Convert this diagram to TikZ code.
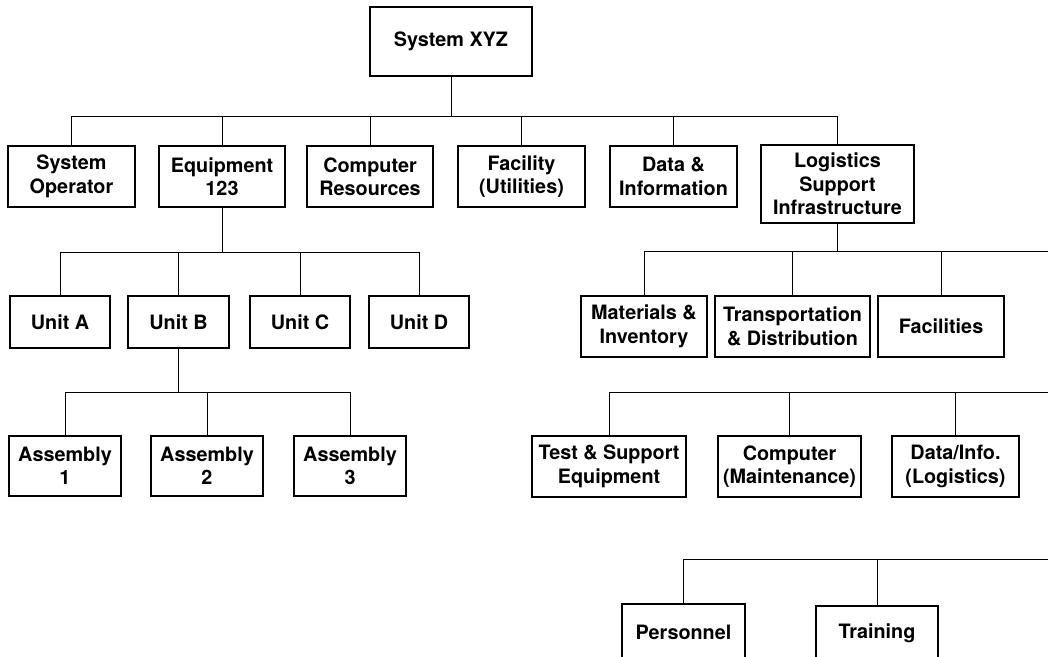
\documentclass[tikz,border=0pt]{standalone}
\usepackage{fontspec}
\setmainfont{TeX Gyre Heros}
\begin{document}
\begin{tikzpicture}[x=1pt,y=-1pt,
  box/.style={draw, line width=1.8pt, rectangle, align=center, inner sep=1pt,
    font=\bfseries\fontsize{19.8}{23.5}\selectfont},
  conn/.style={line width=1pt}]
\useasboundingbox (0,0) rectangle (1048,656);
\clip (0,0) rectangle (1048,656);
% level 0
\node[box, minimum width=162pt, minimum height=69pt] (sys) at (451,41.5) {System XYZ};
% level 1
\node[box, minimum width=127pt, minimum height=61pt] (op) at (71.5,176.5) {System\\Operator};
\node[box, minimum width=126pt, minimum height=61pt] (eq) at (222,176.5) {Equipment\\123};
\node[box, minimum width=126pt, minimum height=61pt] (cr) at (370,176.5) {Computer\\Resources};
\node[box, minimum width=127pt, minimum height=61pt] (fac) at (521.5,176.5) {Facility\\(Utilities)};
\node[box, minimum width=127pt, minimum height=61pt] (data) at (673.5,176.5) {Data \&\\Information};
\node[box, minimum width=153pt, minimum height=78pt] (log) at (837.5,184) {Logistics\\Support\\Infrastructure};
% units
\node[box, minimum width=100pt, minimum height=52pt] (uA) at (60,322) {Unit A};
\node[box, minimum width=101pt, minimum height=52pt] (uB) at (178.5,322) {Unit B};
\node[box, minimum width=100pt, minimum height=52pt] (uC) at (300,322) {Unit C};
\node[box, minimum width=100pt, minimum height=52pt] (uD) at (419,322) {Unit D};
% assemblies
\node[box, minimum width=112pt, minimum height=60pt] (a1) at (65,466) {Assembly\\1};
\node[box, minimum width=112pt, minimum height=60pt] (a2) at (207,466) {Assembly\\2};
\node[box, minimum width=112pt, minimum height=60pt] (a3) at (350,466) {Assembly\\3};
% logistics level 2
\node[box, minimum width=126pt, minimum height=61pt] (mat) at (644,326.5) {Materials \&\\Inventory};
\node[box, minimum width=155pt, minimum height=61pt] (tr) at (792.5,326.5) {Transportation\\\& Distribution};
\node[box, minimum width=126pt, minimum height=61pt] (fa) at (941,326.5) {Facilities};
% logistics level 3
\node[box, minimum width=154pt, minimum height=61pt] (te) at (609,466.5) {Test \& Support\\Equipment};
\node[box, minimum width=143pt, minimum height=61pt] (cm) at (789.5,466.5) {Computer\\(Maintenance)};
\node[box, minimum width=127pt, minimum height=61pt] (di) at (955.5,466.5) {Data/Info.\\(Logistics)};
% logistics level 4
\node[box, minimum width=123pt, minimum height=56pt] (pe) at (683.5,632) {Personnel};
\node[box, minimum width=122pt, minimum height=54pt] (trn) at (877,633) {Training};
% free ends at the right edge
\coordinate (e1) at (1050,251);
\coordinate (e2) at (1050,392);
\coordinate (e3) at (1050,559);
% connectors level 1
\draw[conn] (sys.south) -- (451,116);
\draw[conn] (op.north) |- (log.north |- 0,116) -- (log.north);
\foreach \n in {eq,cr,fac,data} \draw[conn] (\n.north) -- (\n.north |- 0,116);
% units
\draw[conn] (eq.south) -- (eq.south |- 0,252);
\draw[conn] (uA.north) |- (uD.north |- 0,252) -- (uD.north);
\foreach \n in {uB,uC} \draw[conn] (\n.north) -- (\n.north |- 0,252);
% assemblies
\draw[conn] (uB.south) -- (uB.south |- 0,392);
\draw[conn] (a1.north) |- (a3.north |- 0,392) -- (a3.north);
\draw[conn] (a2.north) -- (a2.north |- 0,392);
% logistics level 2
\draw[conn] (log.south) -- (log.south |- 0,251);
\draw[conn] (mat.north) |- (e1);
\foreach \n in {tr,fa} \draw[conn] (\n.north) -- (\n.north |- e1);
% logistics level 3
\draw[conn] (te.north) |- (e2);
\foreach \n in {cm,di} \draw[conn] (\n.north) -- (\n.north |- e2);
% logistics level 4
\draw[conn] (pe.north) |- (e3);
\draw[conn] (trn.north) -- (trn.north |- e3);
\end{tikzpicture}
\end{document}
